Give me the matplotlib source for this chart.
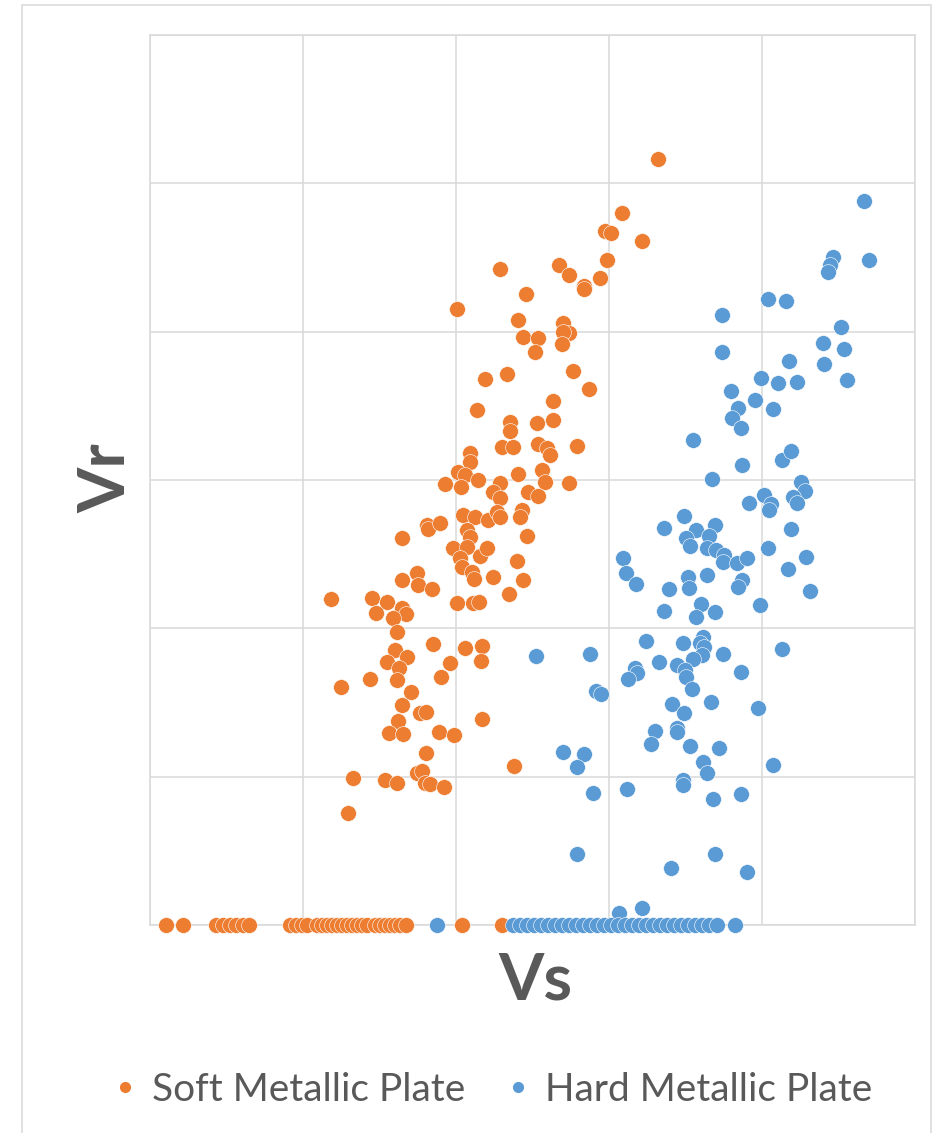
import matplotlib.pyplot as plt
from matplotlib.patches import Rectangle
from matplotlib.lines import Line2D

plt.rcParams['font.family'] = ['Lato', 'DejaVu Sans']

# Soft Metallic Plate (orange)
soft_vs = [33.18, 30.83, 29.74, 30.11, 32.18, 29.85, 22.88, 26.73, 27.41, 29.41,
           28.39, 28.39, 24.56, 20.05, 24.05, 26.99, 27.41, 27.01, 24.40, 25.34,
           26.91, 25.14, 27.65, 21.90, 23.31, 28.67, 26.32, 21.37, 23.53, 23.53,
           25.31, 26.32, 20.92, 20.92, 22.99, 23.75, 25.38, 25.93, 26.14, 27.89,
           20.15, 20.59, 19.28, 20.31, 21.46, 24.07, 25.60, 25.82, 27.41, 22.88,
           22.40, 22.88, 24.73, 25.38, 24.29, 24.18, 20.48, 21.24, 22.11, 22.66,
           22.88, 18.08, 18.15, 18.95, 16.45, 20.70, 20.92, 24.62, 19.82, 20.70,
           21.57, 22.01, 20.26, 20.37, 21.03, 21.18, 23.97, 22.44, 24.40, 17.43,
           17.50, 18.45, 16.45, 23.46, 11.83, 14.49, 15.51, 14.77, 16.45, 16.73,
           15.86, 20.05, 21.09, 21.52, 16.12, 18.52, 20.59, 21.70, 21.63, 16.01,
           16.78, 15.51, 16.29, 19.61, 19.02, 14.38, 12.48, 16.16, 17.04, 16.45,
           17.65, 18.04, 21.70, 16.19, 15.64, 16.56, 18.87, 19.87, 18.02, 23.81,
           13.25, 15.36, 16.16, 17.43, 17.76, 17.97, 18.30, 19.22, 12.92,
           1.05, 2.16, 4.31, 4.77, 5.23, 5.62, 6.08, 6.47,
           9.15, 9.54, 9.93, 10.26, 10.92, 11.24, 11.57, 11.90, 12.22, 12.55,
           12.88, 13.20, 13.53, 13.86, 14.18, 14.71, 15.03, 15.36, 15.69, 16.01,
           16.34, 16.73, 20.37, 22.99]
soft_vr = [51.64, 48.02, 46.81, 46.63, 46.13, 44.83, 44.23, 44.48, 43.80, 43.64,
           43.10, 42.88, 42.52, 41.55, 40.77, 40.56, 39.89, 40.00, 39.64, 39.55,
           39.19, 38.61, 37.33, 36.81, 37.15, 36.11, 35.33, 34.72, 33.91, 33.30,
           33.86, 34.05, 31.80, 31.23, 32.25, 32.25, 32.43, 32.14, 31.69, 32.29,
           30.56, 30.34, 29.73, 29.51, 30.00, 30.40, 30.67, 29.89, 29.82, 29.78,
           29.21, 28.77, 29.21, 28.92, 27.98, 27.53, 27.64, 27.53, 27.30, 27.86,
           27.53, 26.97, 26.68, 27.12, 26.11, 26.63, 26.18, 26.25, 25.40, 25.50,
           24.88, 25.40, 24.72, 24.16, 23.82, 23.31, 24.54, 23.44, 23.26, 23.71,
           22.92, 22.63, 23.26, 22.29, 21.96, 22.03, 21.76, 21.01, 21.35, 20.97,
           20.72, 21.73, 21.69, 21.76, 19.77, 18.94, 18.65, 18.83, 17.80, 18.54,
           18.05, 17.71, 17.31, 17.64, 16.74, 16.58, 16.07, 16.52, 15.73, 14.83,
           14.27, 14.38, 13.91, 13.75, 12.96, 12.88, 13.03, 12.83, 11.58, 10.72,
           9.93, 9.78, 9.59, 10.23, 10.38, 9.55, 9.49, 9.32, 7.53,
           0, 0, 0, 0, 0, 0, 0, 0,
           0, 0, 0, 0, 0, 0, 0, 0, 0, 0,
           0, 0, 0, 0, 0, 0, 0, 0, 0, 0,
           0, 0, 0, 0]

# Hard Metallic Plate (blue)
hard_vs = [46.67, 44.66, 44.44, 44.29, 47.01, 40.37, 41.55, 37.37, 45.16, 44.01,
           45.38, 44.05, 45.58, 41.78, 37.37, 39.95, 41.07, 42.31, 37.95, 39.54,
           38.45, 38.06, 38.63, 40.70, 35.51, 38.67, 41.29, 41.88, 36.71, 42.57,
           42.81, 42.05, 42.31, 39.17, 40.13, 40.57, 40.46, 34.92, 33.59, 36.93,
           35.69, 35.03, 35.29, 36.56, 36.39, 36.99, 37.54, 37.43, 38.39, 39.04,
           41.90, 40.37, 42.88, 41.72, 43.14, 30.93, 31.11, 31.76, 35.18, 36.39,
           33.94, 35.25, 38.67, 38.41, 35.99, 33.59, 36.93, 35.69, 39.87, 32.42,
           34.86, 36.12, 35.95, 36.21, 36.06, 35.51, 37.43, 34.42, 34.97, 35.03,
           38.61, 41.29, 28.76, 25.21, 33.27, 31.70, 31.81, 31.22, 29.15, 29.48,
           35.44, 34.10, 34.92, 36.69, 39.72, 33.01, 34.46, 34.42, 32.75, 35.29,
           37.21, 36.12, 36.39, 26.97, 28.39, 27.89, 40.70, 34.86, 28.93, 31.16,
           34.82, 36.78, 38.63, 27.89, 36.95, 34.03, 39.04, 30.67, 32.18,
           18.76, 23.73, 24.18, 24.64, 25.10, 25.56, 26.01, 26.47, 26.93, 27.39,
           27.84, 28.30, 28.76, 29.22, 29.67, 30.13, 30.59, 31.05, 31.50, 31.96,
           32.42, 32.88, 33.33, 33.79, 34.25, 34.71, 35.16, 35.62, 36.08, 36.54,
           37.04, 38.24]
hard_vr = [48.81, 45.06, 44.50, 44.04, 44.83, 42.18, 42.07, 41.12, 40.34, 39.22,
           38.81, 37.84, 36.74, 38.02, 38.63, 36.90, 36.56, 36.63, 36.02, 35.39,
           34.88, 34.20, 33.53, 34.81, 32.70, 31.01, 31.35, 31.98, 30.07, 29.87,
           29.26, 28.87, 28.47, 28.43, 28.99, 28.38, 27.98, 27.59, 26.78, 26.97,
           26.63, 26.11, 25.55, 26.23, 25.40, 25.28, 24.94, 24.49, 24.43, 24.72,
           26.70, 25.40, 24.81, 24.02, 22.54, 24.72, 23.71, 22.99, 23.48, 23.58,
           22.65, 22.70, 23.26, 22.81, 21.64, 21.17, 21.08, 20.74, 21.59, 19.17,
           19.03, 19.44, 18.99, 18.76, 18.20, 17.93, 18.25, 17.53, 17.19, 16.74,
           17.04, 18.59, 18.25, 18.16, 17.71, 17.31, 16.97, 16.56, 15.80, 15.55,
           15.89, 14.88, 14.27, 15.05, 14.61, 13.08, 13.26, 13.03, 12.18, 12.09,
           11.95, 11.01, 10.23, 11.68, 11.51, 10.67, 10.79, 9.78, 8.92, 9.17,
           9.44, 8.47, 8.83, 4.77, 4.77, 3.82, 3.55, 0.83, 1.17,
           0, 0, 0, 0, 0, 0, 0, 0, 0, 0,
           0, 0, 0, 0, 0, 0, 0, 0, 0, 0,
           0, 0, 0, 0, 0, 0, 0, 0, 0, 0,
           0, 0]

orange = '#ED7D31'
blue = '#5B9BD5'
grid = '#D9D9D9'
text_col = '#595959'

W, H = 948, 1133
fig = plt.figure(figsize=(W / 100, H / 100), dpi=100)
ax = fig.add_axes([150 / W, 1 - 925 / H, 765 / W, 890 / H])

ax.scatter(soft_vs, soft_vr, s=130, color=orange, edgecolors='white',
           linewidths=0.4, clip_on=False, zorder=3)
ax.scatter(hard_vs, hard_vr, s=130, color=blue, edgecolors='white',
           linewidths=0.4, clip_on=False, zorder=4)

ax.set_xlim(0, 50)
ax.set_ylim(0, 60)
ax.set_xticks(range(0, 51, 10))
ax.set_yticks(range(0, 61, 10))
ax.tick_params(length=0, labelbottom=False, labelleft=False)
ax.grid(True, color=grid, linewidth=1.1)
ax.set_axisbelow(True)
for sp in ax.spines.values():
    sp.set_color(grid)
    sp.set_linewidth(1.1)

# axis titles
fig.text(535 / W, 1 - 981 / H, 'Vs', ha='center', va='center',
         fontsize=47, fontweight='bold', color=text_col)
fig.text(107 / W, 1 - 478 / H, 'Vr', ha='center', va='center', rotation=90,
         fontsize=47, fontweight='bold', color=text_col)

# chart area border
fig.add_artist(Rectangle((22 / W, -0.05), (931 - 22) / W, 1.05 - 4.5 / H,
                         transform=fig.transFigure, fill=False,
                         edgecolor=grid, linewidth=1.1))

handles = [Line2D([], [], marker='o', linestyle='', color=orange, markersize=7),
           Line2D([], [], marker='o', linestyle='', color=blue, markersize=7)]
fig.legend(handles, ['Soft Metallic Plate', 'Hard Metallic Plate'],
           loc='center', bbox_to_anchor=(494 / W, 1 - 1090 / H), ncol=2,
           frameon=False, fontsize=28, labelcolor=text_col,
           handlelength=0.5, handletextpad=0.45, columnspacing=1.1)

fig.savefig('out.png', dpi=100)
